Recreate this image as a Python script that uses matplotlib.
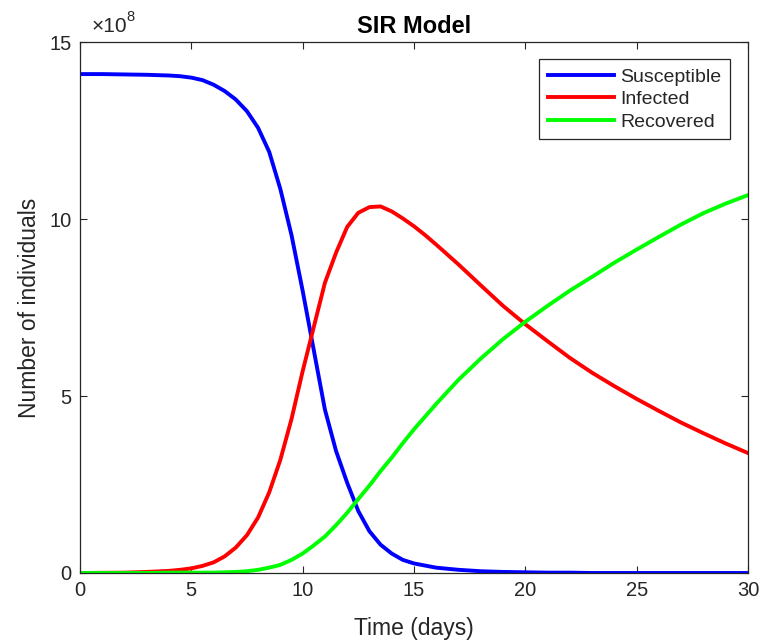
import matplotlib.pyplot as plt

# datos (valores en unidades de 1e8)
days = [0, 1, 2, 3, 4, 4.5, 5, 5.5, 6, 6.5, 7, 7.5, 8, 8.5, 9, 9.5, 10, 10.5,
        11, 11.5, 12, 12.5, 13, 13.5, 14, 14.5, 15, 15.5, 16, 17, 18, 19, 20,
        21, 22, 23, 24, 25, 26, 27, 28, 29, 30]

susceptible = [14.10, 14.10, 14.09, 14.08, 14.06, 14.04, 14.00, 13.93, 13.80,
               13.62, 13.38, 13.05, 12.58, 11.90, 10.85, 9.55, 7.98, 6.30,
               4.62, 3.45, 2.55, 1.75, 1.18, 0.80, 0.55, 0.37, 0.27, 0.21,
               0.15, 0.09, 0.05, 0.03, 0.02, 0.01, 0.01, 0.0, 0.0, 0.0, 0.0,
               0.0, 0.0, 0.0, 0.0]

infected = [0.0, 0.005, 0.01, 0.03, 0.06, 0.09, 0.13, 0.20, 0.30, 0.47, 0.72,
            1.07, 1.57, 2.28, 3.20, 4.35, 5.70, 6.95, 8.20, 9.05, 9.78, 10.18,
            10.34, 10.36, 10.22, 10.02, 9.80, 9.55, 9.28, 8.72, 8.13, 7.55,
            7.03, 6.55, 6.08, 5.66, 5.28, 4.92, 4.58, 4.25, 3.95, 3.66, 3.39]

recovered = [0.0, 0.0, 0.0, 0.0, 0.01, 0.01, 0.01, 0.01, 0.01, 0.02, 0.03,
             0.05, 0.09, 0.15, 0.23, 0.37, 0.55, 0.78, 1.03, 1.35, 1.70, 2.09,
             2.47, 2.88, 3.26, 3.67, 4.06, 4.42, 4.78, 5.46, 6.06, 6.61, 7.10,
             7.55, 7.98, 8.37, 8.77, 9.14, 9.50, 9.85, 10.17, 10.44, 10.68]

plt.rcParams['font.family'] = ['Liberation Sans', 'DejaVu Sans']
plt.rcParams['mathtext.default'] = 'regular'
dark = '#262626'

fig = plt.figure(figsize=(7.63, 6.4), dpi=100)
ax = fig.add_axes([0.1048, 0.1047, 0.8755, 0.8293])

ax.plot(days, susceptible, color=(0, 0, 1), lw=2.8, label='Susceptible')
ax.plot(days, infected, color=(1, 0, 0), lw=2.8, label='Infected')
ax.plot(days, recovered, color=(0, 1, 0), lw=2.8, label='Recovered')

ax.set_xlim(0, 30)
ax.set_ylim(0, 15)
ax.set_xticks([0, 5, 10, 15, 20, 25, 30])
ax.set_yticks([0, 5, 10, 15])
ax.tick_params(direction='in', top=True, right=True, length=5, width=0.8,
               colors=dark, labelsize=14.5, pad=6)
for s in ax.spines.values():
    s.set_color(dark)
    s.set_linewidth(0.9)

# etiqueta del exponente como en matlab
ax.text(0.018, 1.012, '×10', transform=ax.transAxes, fontsize=15,
        color=dark, ha='left', va='bottom')
ax.text(0.069, 1.035, '8', transform=ax.transAxes, fontsize=10.5,
        color=dark, ha='left', va='bottom')

ax.set_title('SIR Model', fontsize=17, fontweight='bold', color='black', pad=7)
ax.set_xlabel('Time (days)', fontsize=16.5, color=dark, labelpad=12)
ax.set_ylabel('Number of individuals', fontsize=16.5, color=dark, labelpad=6)

leg = ax.legend(loc='upper right', fontsize=14, fancybox=False,
                framealpha=1, edgecolor=dark, handlelength=3.4,
                handletextpad=0.3, borderpad=0.45, labelspacing=0.25,
                borderaxespad=0, bbox_to_anchor=(0.973, 0.968))
leg.get_frame().set_linewidth(0.9)
for t in leg.get_texts():
    t.set_color(dark)

plt.savefig('out.png', dpi=100)
